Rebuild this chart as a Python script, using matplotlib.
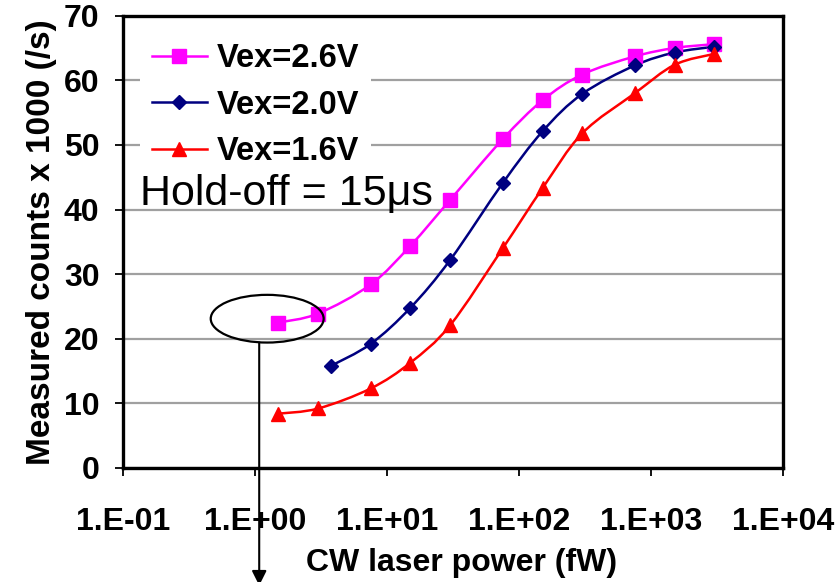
import numpy as np
import matplotlib.pyplot as plt
from matplotlib.path import Path
from matplotlib.patches import PathPatch, Ellipse
from matplotlib.lines import Line2D
from matplotlib.ticker import FixedLocator, FuncFormatter, NullLocator

plt.rcParams['font.family'] = ['Liberation Sans', 'DejaVu Sans']

# CW laser power (fW)
power = [1.5, 3, 7.5, 15, 30, 75, 150, 300, 750, 1500, 3000]
power_20 = [3.75, 7.5, 15, 30, 75, 150, 300, 750, 1500, 3000]

# measured counts x 1000 (/s)
counts_26 = [22.5, 23.9, 28.4, 34.4, 41.5, 50.9, 56.9, 60.9, 63.7, 65.0, 65.6]
counts_20 = [15.8, 19.2, 24.8, 32.2, 44.1, 52.1, 57.9, 62.3, 64.3, 65.2]
counts_16 = [8.4, 9.2, 12.3, 16.3, 22.1, 34.0, 43.3, 51.8, 58.0, 62.4, 64.1]

labels = ['Vex=2.6V', 'Vex=2.0V', 'Vex=1.6V']
xticks = [1e-1, 1e0, 1e1, 1e2, 1e3, 1e4]
yticks = [0, 10, 20, 30, 40, 50, 60, 70]


def smooth_path(x, y, t=1 / 6):
    # Catmull-Rom style bezier through the points (in log-x space)
    pts = np.column_stack([np.log10(x), y])
    verts = [pts[0]]
    codes = [Path.MOVETO]
    n = len(pts)
    for i in range(n - 1):
        p0 = pts[i - 1] if i > 0 else pts[i]
        p1, p2 = pts[i], pts[i + 1]
        p3 = pts[i + 2] if i + 2 < n else pts[i + 1]
        verts += [p1 + (p2 - p0) * t, p2 - (p3 - p1) * t, p2]
        codes += [Path.CURVE4] * 3
    verts = np.array(verts)
    verts[:, 0] = 10 ** verts[:, 0]
    return Path(verts, codes)


fig = plt.figure(figsize=(8.37, 5.82), dpi=100)
ax = fig.add_axes([0.147, 0.196, 0.789, 0.777])
ax.set_xscale('log')
ax.set_xlim(1e-1, 1e4)
ax.set_ylim(0, 70)

series = [
    (power, counts_26, '#FF00FF', 's', 9.5),
    (power_20, counts_20, '#000080', 'D', 7.5),
    (power, counts_16, '#FF0000', '^', 10.5),
]
handles = []
for (x, y, c, m, ms), lab in zip(series, labels):
    ax.add_patch(PathPatch(smooth_path(x, y), fill=False, edgecolor=c,
                           lw=1.8, zorder=3))
    ax.plot(x, y, ls='none', marker=m, ms=ms, color=c, zorder=4)
    handles.append(Line2D([], [], color=c, marker=m, ms=ms, lw=1.8))

ax.xaxis.set_major_locator(FixedLocator(xticks))
ax.xaxis.set_minor_locator(NullLocator())
ax.xaxis.set_major_formatter(FuncFormatter(
    lambda v, p: '1.E{:+03d}'.format(int(round(np.log10(v))))))
ax.set_yticks(yticks)

ax.grid(axis='y', color='#a0a0a0', lw=1.6, zorder=1)
ax.set_axisbelow(True)
for s in ax.spines.values():
    s.set_linewidth(2.4)
ax.tick_params(axis='both', direction='out', length=6, width=1.3,
               labelsize=23)
ax.tick_params(axis='x', pad=22)
ax.tick_params(axis='y', pad=11)
for lbl in ax.get_xticklabels() + ax.get_yticklabels():
    lbl.set_fontweight('bold')

ax.set_xlabel('CW laser power (fW)', fontsize=23, fontweight='bold')
ax.xaxis.set_label_coords(0.513, -0.176)
ax.set_ylabel('Measured counts x 1000 (/s)', fontsize=24,
              fontweight='bold', labelpad=5)

leg = ax.legend(handles, labels, loc='upper left',
                bbox_to_anchor=(0.026, 0.965),
                frameon=True, facecolor='white', edgecolor='none',
                framealpha=1, fancybox=False, borderaxespad=0,
                handlelength=1.7, handletextpad=0.3, labelspacing=0.48,
                borderpad=0.35, prop={'size': 23.5, 'weight': 'bold'})
leg.set_zorder(5)

ax.text(0.026, 0.582, 'Hold-off = 15\u03bcs', transform=ax.transAxes,
        fontsize=31, va='baseline', ha='left', zorder=6)

ax.add_patch(Ellipse((0.2183, 0.330), 0.171, 0.1055, transform=ax.transAxes,
                     fill=False, edgecolor='black', lw=1.6, zorder=6,
                     clip_on=False))
ax.annotate('', xy=(0.2062, -0.26), xycoords='axes fraction',
            xytext=(0.2062, 0.2772), textcoords='axes fraction',
            arrowprops=dict(arrowstyle='-|>', color='black', lw=1.5,
                            mutation_scale=22, shrinkA=0, shrinkB=0),
            annotation_clip=False, zorder=6)

fig.savefig('out.png', dpi=100)
